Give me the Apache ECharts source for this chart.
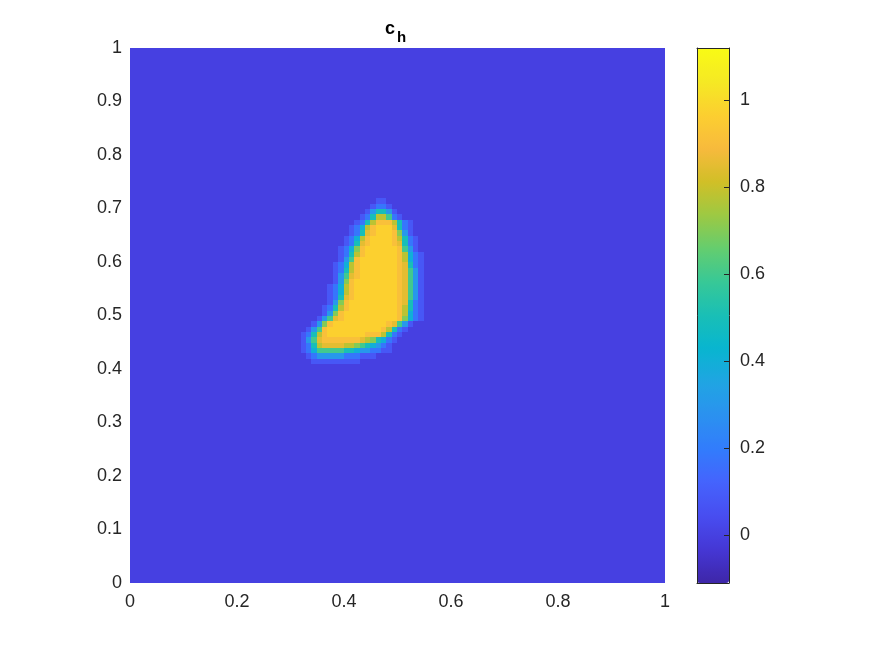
<!DOCTYPE html>
<html>
<head>
<meta charset="utf-8">
<title>c_h</title>
<script src="https://cdn.jsdelivr.net/npm/echarts@6/dist/echarts.min.js"></script>
<style>
  html, body { margin: 0; padding: 0; background: #fff; }
  #chart { width: 875px; height: 656px; }
</style>
</head>
<body>
<div id="chart"></div>
<script>
// c_h on the unit square, sampled on a 100 x 100 grid of 0.01 cells.
// Everything is ~0 except the patch below, read off the picture.
const CELL = 0.01;
const N = 100;
const PATCH_COL0 = 30;    // first patch column -> x = 0.30
const PATCH_ROW_TOP = 71; // first patch row -> y = 0.71 (rows go down)

// one char per cell, levels estimated from the colours
const LEVELS = {
  '.': 0, '1': 0.08, '2': 0.18, '3': 0.3, '4': 0.4, '5': 0.5,
  '6': 0.6, '7': 0.7, '8': 0.78, '9': 0.85, 'a': 0.91, 'b': 0.97
};
const PATCH = [
  '................11........',
  '...............1221.......',
  '..............135531......',
  '.............12588621.....',
  '............1258aaa8521...',
  '...........1248abbb9521...',
  '...........1259abbba731...',
  '..........1248abbbba8521..',
  '..........1259abbbba9521..',
  '.........1247abbbbbba631..',
  '.........1258abbbbbba8421.',
  '.........136abbbbbbba8421.',
  '........1248abbbbbbba9521.',
  '........1258abbbbbbba9631.',
  '........1369abbbbbbba9631.',
  '........137abbbbbbbba9631.',
  '.......1248abbbbbbbba9631.',
  '.......1248abbbbbbbba9631.',
  '.......1259abbbbbbbba9631.',
  '.......137abbbbbbbbba9521.',
  '......1258abbbbbbbbba8521.',
  '......137abbbbbbbbbba8421.',
  '.....1369abbbbbbbbbba7421.',
  '....137abbbbbbbbbba9631...',
  '...136abbbbbbbbbba8521....',
  '..1258abbbbbbbaaa8521.....',
  '..1369aaaaaaa9875421......',
  '..12589999887654321.......',
  '..12466666554332211.......',
  '...1233333222111.........',
  '....111111111.............'
];

const X_TICKS = [0, 0.2, 0.4, 0.6, 0.8, 1];
const Y_TICKS = [0, 0.1, 0.2, 0.3, 0.4, 0.5, 0.6, 0.7, 0.8, 0.9, 1];
const CBAR_TICKS = [0, 0.2, 0.4, 0.6, 0.8, 1];
const C_MIN = -0.11;
const C_MAX = 1.12;

// parula
const PARULA = [
  '#3e26a8', '#4537d5', '#484df0', '#4563fd', '#327cfc', '#2b91ef',
  '#20a5e3', '#08b5d0', '#19bfb6', '#37c897', '#64cd6f', '#9dc943',
  '#d1bf27', '#f8ba3d', '#fccf30', '#f5e924', '#f9fb15'
];

const AXIS_COLOR = '#262626';
const FONT = 'Liberation Sans, Arial, Helvetica, sans-serif';

function cellValue(col, row) {
  const pr = PATCH_ROW_TOP - row;
  const pc = col - PATCH_COL0;
  if (pr < 0 || pr >= PATCH.length) return 0;
  const line = PATCH[pr];
  if (pc < 0 || pc >= line.length) return 0;
  return LEVELS[line[pc]];
}

const field = [];
for (let row = 0; row < N; row++) {
  for (let col = 0; col < N; col++) {
    field.push([col * CELL, row * CELL, cellValue(col, row)]);
  }
}

function renderCell(params, api) {
  const x = api.value(0);
  const y = api.value(1);
  const p0 = api.coord([x, y + CELL]);
  const p1 = api.coord([x + CELL, y]);
  const x0 = Math.floor(p0[0]), y0 = Math.floor(p0[1]);
  return {
    type: 'rect',
    shape: { x: x0, y: y0, width: Math.ceil(p1[0]) - x0, height: Math.ceil(p1[1]) - y0 },
    style: { fill: api.visual('color') }
  };
}

// plain axis: no line, no ticks, no labels unless asked for
function axis(extra) {
  return Object.assign({
    type: 'value',
    min: 0,
    max: 1,
    z: 10,
    splitLine: { show: false },
    axisLine: { show: false },
    axisTick: { show: false },
    axisLabel: { show: false }
  }, extra);
}

// colorbar keeps its box
const cbarLine = { show: true, onZero: false, lineStyle: { color: AXIS_COLOR, width: 1 } };

const chart = echarts.init(document.getElementById('chart'), null, { renderer: 'canvas' });

const option = {
  animation: false,
  backgroundColor: '#fff',
  graphic: [
    { type: 'text', left: 385, top: 20, style: { text: 'c', font: 'bold 18px ' + FONT, fill: '#000' } },
    { type: 'text', left: 397, top: 30, style: { text: 'h', font: 'bold 15px ' + FONT, fill: '#000' } }
  ],
  grid: [
    { left: 130, top: 48, width: 535, height: 535 },
    { left: 697, top: 48, width: 32, height: 535 }
  ],
  xAxis: [
    axis({
      gridIndex: 0, position: 'bottom',
      axisLabel: { show: true, customValues: X_TICKS, margin: 10, color: AXIS_COLOR, fontSize: 18, fontFamily: FONT }
    }),
    axis({ gridIndex: 1, position: 'bottom', axisLine: cbarLine }),
    axis({ gridIndex: 1, position: 'top', axisLine: cbarLine })
  ],
  yAxis: [
    axis({
      gridIndex: 0, position: 'left',
      axisLabel: { show: true, customValues: Y_TICKS, margin: 8, color: AXIS_COLOR, fontSize: 18, fontFamily: FONT }
    }),
    axis({ gridIndex: 1, position: 'left', min: C_MIN, max: C_MAX, axisLine: cbarLine }),
    axis({
      gridIndex: 1, position: 'right', min: C_MIN, max: C_MAX,
      axisLine: cbarLine,
      axisTick: { show: true, inside: true, length: 5, customValues: CBAR_TICKS, lineStyle: { color: AXIS_COLOR } },
      axisLabel: { show: true, customValues: CBAR_TICKS, margin: 11, color: AXIS_COLOR, fontSize: 18, fontFamily: FONT }
    })
  ],
  visualMap: {
    type: 'continuous',
    min: C_MIN,
    max: C_MAX,
    dimension: 2,
    seriesIndex: 0,
    calculable: false,
    hoverLink: false,
    left: 697,
    top: 48,
    padding: 0,
    itemWidth: 32,
    itemHeight: 535,
    text: null,
    inRange: { color: PARULA }
  },
  series: [{
    type: 'custom',
    coordinateSystem: 'cartesian2d',
    xAxisIndex: 0,
    yAxisIndex: 0,
    renderItem: renderCell,
    encode: { x: 0, y: 1 },
    data: field,
    silent: true
  }]
};

chart.setOption(option);
</script>
</body>
</html>
